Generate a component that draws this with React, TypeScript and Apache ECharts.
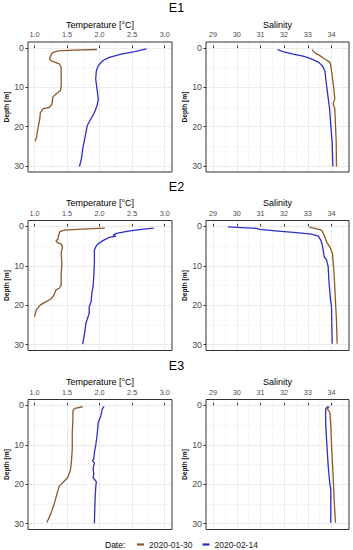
import React, { useEffect, useRef } from 'react';
import * as echarts from 'echarts';

const STATIONS = ['E1', 'E2', 'E3'];
const DATES = ['2020-01-30', '2020-02-14'];
const DATE_COLORS = ['#8B5A2B', '#2E2EC8'];
const TEMP_TICKS = [1.0, 1.5, 2.0, 2.5, 3.0];
const SAL_TICKS = [29, 30, 31, 32, 33, 34];
const DEPTH_TICKS = [0, 10, 20, 30];

// [value, depth]
const E1_TEMP_0130: [number, number][] = [[1.96, 0.4], [1.6, 0.55], [1.36, 0.76], [1.27, 1.27], [1.25, 1.95], [1.23, 2.8], [1.26, 3.3], [1.38, 4.07], [1.41, 4.9], [1.41, 7.0], [1.41, 9.6], [1.4, 10.8], [1.33, 11.7], [1.28, 12.5], [1.27, 14.2], [1.23, 15.1], [1.13, 15.5], [1.09, 16.4], [1.08, 18.1], [1.05, 20.6], [1.03, 22.7], [1.01, 23.7]];
const E1_TEMP_0214: [number, number][] = [[2.72, 0.25], [2.54, 0.93], [2.33, 1.6], [2.15, 2.4], [2.05, 3.2], [1.98, 4.5], [1.95, 5.8], [1.94, 7.9], [1.96, 10.4], [1.98, 13.0], [1.96, 14.7], [1.92, 16.4], [1.85, 18.5], [1.81, 19.7], [1.78, 22.3], [1.74, 25.7], [1.72, 28.2], [1.69, 30.1]];
const E1_SAL_0130: [number, number][] = [[33.18, 0.42], [33.3, 1.27], [33.51, 1.95], [33.72, 2.8], [33.93, 3.6], [33.97, 4.5], [34.03, 7.0], [34.1, 10.4], [34.14, 13.0], [34.07, 14.2], [34.14, 15.5], [34.17, 19.7], [34.2, 24], [34.21, 30.1]];
const E1_SAL_0214: [number, number][] = [[31.72, 0.42], [32.03, 1.1], [32.38, 1.6], [32.8, 2.1], [33.15, 2.8], [33.44, 3.6], [33.61, 4.5], [33.72, 5.8], [33.76, 7.9], [33.83, 11.3], [33.92, 15.5], [33.97, 19.7], [34.03, 24], [34.06, 30.1]];

const E2_TEMP_0130: [number, number][] = [[2.08, 0.42], [1.72, 0.68], [1.46, 0.93], [1.39, 1.35], [1.37, 2.2], [1.36, 3.3], [1.33, 3.6], [1.35, 4.1], [1.41, 4.5], [1.43, 5.2], [1.41, 6.8], [1.42, 9.4], [1.41, 11.9], [1.41, 14.9], [1.38, 15.7], [1.33, 16.1], [1.3, 17.4], [1.26, 18.3], [1.18, 19.1], [1.09, 19.9], [1.03, 21.2], [1.0, 22.9]];
const E2_TEMP_0214: [number, number][] = [[2.83, 0.42], [2.64, 0.76], [2.44, 1.18], [2.26, 1.78], [2.21, 2.2], [2.25, 2.45], [2.15, 2.8], [2.05, 3.6], [1.97, 4.5], [1.94, 5.2], [1.92, 6.0], [1.92, 9.4], [1.91, 12.8], [1.9, 15.3], [1.88, 17], [1.87, 19.1], [1.84, 20.4], [1.84, 22], [1.79, 24.6], [1.77, 27.1], [1.74, 29.9]];
const E2_SAL_0130: [number, number][] = [[33.12, 0.1], [33.08, 0.25], [33.3, 0.5], [33.58, 0.93], [33.69, 2.2], [33.79, 3.9], [33.93, 5.2], [34.04, 6.8], [34.1, 11.1], [34.14, 15.3], [34.18, 20.4], [34.21, 23.8], [34.24, 29.8]];
const E2_SAL_0214: [number, number][] = [[29.63, 0.1], [30.83, 0.5], [30.97, 0.76], [31.75, 1.18], [32.52, 1.6], [33.15, 1.94], [33.44, 2.45], [33.55, 3.5], [33.61, 4.7], [33.66, 6.4], [33.69, 7.7], [33.79, 8.5], [33.86, 10.2], [33.9, 14.5], [33.96, 18.7], [34.0, 20.4], [34.03, 29.8]];

const E3_TEMP_0130: [number, number][] = [[1.74, 0.34], [1.62, 0.76], [1.59, 1.35], [1.59, 3.5], [1.58, 6.8], [1.58, 11.1], [1.57, 13.6], [1.56, 15.3], [1.55, 16.6], [1.51, 18.3], [1.44, 19.5], [1.38, 20.5], [1.35, 22.1], [1.31, 24.6], [1.26, 27.1], [1.19, 29.7]];
const E3_TEMP_0214: [number, number][] = [[2.07, 0.25], [2.04, 0.93], [2.02, 2.6], [1.98, 4.3], [1.96, 7.7], [1.94, 10.2], [1.92, 11.9], [1.91, 13.6], [1.89, 14.0], [1.92, 14.6], [1.91, 15.3], [1.9, 16.1], [1.91, 17.4], [1.9, 18.3], [1.95, 19.4], [1.94, 20.8], [1.93, 23.8], [1.92, 29.9]];
const E3_SAL_0130: [number, number][] = [[33.9, 0.25], [33.83, 0.93], [33.93, 1.8], [33.97, 5.2], [34.01, 11.1], [34.07, 17.9], [34.11, 23.8], [34.17, 29.8]];
const E3_SAL_0214: [number, number][] = [[33.86, 0.25], [33.76, 0.76], [33.75, 2.6], [33.76, 5.2], [33.8, 9.4], [33.86, 15.3], [33.93, 19.9], [33.97, 21.2], [33.97, 29.8]];

const TEMP_PROFILES = [[E1_TEMP_0130, E1_TEMP_0214], [E2_TEMP_0130, E2_TEMP_0214], [E3_TEMP_0130, E3_TEMP_0214]];
const SAL_PROFILES = [[E1_SAL_0130, E1_SAL_0214], [E2_SAL_0130, E2_SAL_0214], [E3_SAL_0130, E3_SAL_0214]];

const FONT = "'Liberation Sans', Arial, sans-serif";
const ROW_TOPS = [42, 220.5, 399.5];
const PANEL_H = 130;
const TEMP_LEFT = 28;
const TEMP_W = 144;
const SAL_LEFT = 206;
const SAL_W = 143;
const TITLE_TOPS = [1.5, 180.5, 359.5];

function buildOption() {
  const grid: any[] = [];
  const xAxis: any[] = [];
  const yAxis: any[] = [];
  const series: any[] = [];
  const graphic: any[] = [];
  const title: any[] = [];

  const commonX = (gi: number, name: string, min: number, max: number, ticks: number[], fmt: (v: number) => string) => ({
    gridIndex: gi,
    type: 'value',
    position: 'top',
    min,
    max,
    splitNumber: 5,
    name,
    nameLocation: 'middle',
    nameGap: 13,
    nameTextStyle: { fontSize: 9, color: '#000', fontFamily: FONT },
    axisLine: { show: false },
    axisTick: { show: true, length: 2.5, lineStyle: { color: '#333', width: 1 }, customValues: ticks },
    axisLabel: { customValues: ticks, formatter: fmt, fontSize: 7.3, color: '#4d4d4d', margin: 4, fontFamily: FONT },
    splitLine: { show: true, lineStyle: { color: '#ebebeb', width: 1 } },
    minorTick: { show: false, splitNumber: 2 },
    minorSplitLine: { show: true, lineStyle: { color: '#f3f3f3', width: 0.7 } },
  });

  const commonY = (gi: number) => ({
    gridIndex: gi,
    type: 'value',
    inverse: true,
    min: -1.5,
    max: 31.5,
    splitNumber: 3,
    name: 'Depth [m]',
    nameLocation: 'middle',
    nameGap: 18,
    nameTextStyle: { fontSize: 6.6, color: '#111', fontWeight: 'bold', fontFamily: FONT },
    axisLine: { show: false },
    axisTick: { show: true, length: 2.5, lineStyle: { color: '#333', width: 1 }, customValues: DEPTH_TICKS },
    axisLabel: { customValues: DEPTH_TICKS, fontSize: 8.8, color: '#4d4d4d', margin: 4, fontFamily: FONT },
    splitLine: { show: true, lineStyle: { color: '#ebebeb', width: 1 } },
    minorTick: { show: false, splitNumber: 2 },
    minorSplitLine: { show: true, lineStyle: { color: '#f3f3f3', width: 0.7 } },
  });

  STATIONS.forEach((st, r) => {
    const top = ROW_TOPS[r];
    const gT = 2 * r;
    const gS = 2 * r + 1;
    grid.push({ left: TEMP_LEFT, top, width: TEMP_W, height: PANEL_H });
    grid.push({ left: SAL_LEFT, top, width: SAL_W, height: PANEL_H });
    xAxis.push(commonX(gT, 'Temperature [°C]', 0.9, 3.112, TEMP_TICKS, (v: number) => v.toFixed(1)));
    xAxis.push(commonX(gS, 'Salinity', 28.7, 34.74, SAL_TICKS, (v: number) => String(Math.round(v))));
    yAxis.push(commonY(gT));
    yAxis.push(commonY(gS));

    DATES.forEach((d, k) => {
      series.push({
        type: 'line', name: d, xAxisIndex: gT, yAxisIndex: gT,
        data: TEMP_PROFILES[r][k], showSymbol: false, symbol: 'none',
        lineStyle: { color: DATE_COLORS[k], width: 1.3 }, itemStyle: { color: DATE_COLORS[k] },
      });
      series.push({
        type: 'line', name: d, xAxisIndex: gS, yAxisIndex: gS,
        data: SAL_PROFILES[r][k], showSymbol: false, symbol: 'none',
        lineStyle: { color: DATE_COLORS[k], width: 1.3 }, itemStyle: { color: DATE_COLORS[k] },
      });
    });

    graphic.push({ type: 'rect', z: 100, silent: true, shape: { x: TEMP_LEFT, y: top, width: TEMP_W, height: PANEL_H }, style: { fill: 'none', stroke: '#333', lineWidth: 1 } });
    graphic.push({ type: 'rect', z: 100, silent: true, shape: { x: SAL_LEFT, y: top, width: SAL_W, height: PANEL_H }, style: { fill: 'none', stroke: '#333', lineWidth: 1 } });

    title.push({ text: st, left: 'center', top: TITLE_TOPS[r], padding: 0, textStyle: { fontSize: 12.5, fontWeight: 'normal', color: '#000', fontFamily: FONT } });
  });

  graphic.push({ type: 'text', z: 100, left: 105, top: 540, style: { text: 'Date:', fontSize: 8.5, fill: '#000', fontFamily: FONT } });

  return {
    animation: false,
    textStyle: { fontFamily: FONT },
    title,
    grid,
    xAxis,
    yAxis,
    series,
    graphic,
    legend: {
      data: DATES, left: 137, top: 540, icon: 'rect', itemWidth: 7, itemHeight: 2.2, itemGap: 10,
      padding: 0,
      textStyle: { fontSize: 8.5, color: '#1a1a1a', fontFamily: FONT },
    },
  };
}

export default function App() {
  const ref = useRef<HTMLDivElement>(null);
  useEffect(() => {
    document.body.style.margin = '0';
    if (!ref.current) return;
    const chart = echarts.init(ref.current, undefined, { renderer: 'svg' });
    chart.setOption(buildOption() as any);
    return () => chart.dispose();
  }, []);
  return <div ref={ref} style={{ width: 353, height: 550, background: '#fff' }} />;
}
